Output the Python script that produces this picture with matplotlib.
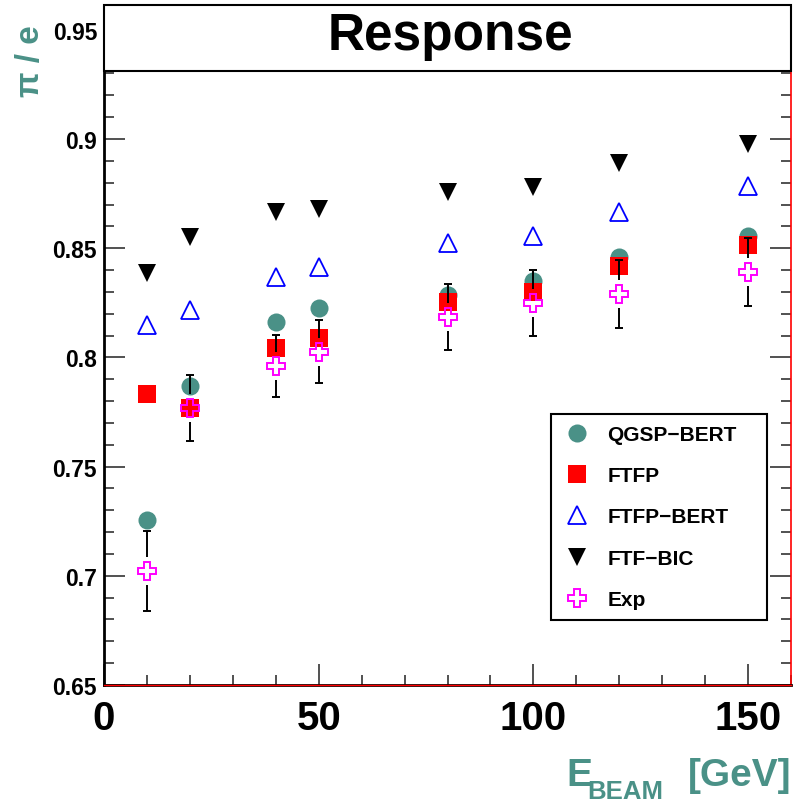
import matplotlib.pyplot as plt
from matplotlib.patches import Rectangle
from matplotlib.lines import Line2D
from matplotlib.ticker import MultipleLocator

plt.rcParams['font.family'] = ['Liberation Sans', 'DejaVu Sans']
plt.rcParams['font.weight'] = 'bold'

# beam energies (GeV)
energy = [10, 20, 40, 50, 80, 100, 120, 150]

# pi/e response per physics list
qgsp_bert = [0.7257, 0.7869, 0.8163, 0.8228, 0.8286, 0.8350, 0.8460, 0.8556]
ftfp = [0.7834, 0.7768, 0.8044, 0.8089, 0.8255, 0.8300, 0.8418, 0.8515]
ftfp_bert = [0.8148, 0.8217, 0.8368, 0.8414, 0.8524, 0.8556, 0.8666, 0.8785]
ftf_bic = [0.8387, 0.8550, 0.8666, 0.8680, 0.8757, 0.8780, 0.8890, 0.8977]
exp_val = [0.7023, 0.7768, 0.7962, 0.8026, 0.8185, 0.8249, 0.8290, 0.8390]
exp_err = [0.0182, 0.0151, 0.0142, 0.0144, 0.0152, 0.0153, 0.0156, 0.0156]

teal = '#4a9187'
W, H = 794, 803

fig = plt.figure(figsize=(W / 100, H / 100), dpi=100)
ax = fig.add_axes([104 / W, (H - 686) / H, (791 - 104) / W, (686 - 6) / H])

ms = 13
ax.plot(energy, qgsp_bert, 'o', color=teal, ms=ms, mew=0, zorder=3)
ax.plot(energy, ftfp, 's', color='red', ms=ms, mew=0, zorder=3)
ax.plot(energy, ftfp_bert, '^', mfc='none', mec='blue', ms=ms, mew=1.3, zorder=3)
ax.plot(energy, ftf_bic, 'v', color='black', ms=ms, mew=0, zorder=3)

# Exp error bars, broken around the open marker
gap = 0.0064
lo = [v - e for v, e in zip(exp_val, exp_err)]
hi = [v + e for v, e in zip(exp_val, exp_err)]
ax.vlines(energy, [v + gap for v in exp_val], hi, color='black', lw=1.4, zorder=4)
ax.vlines(energy, lo, [v - gap for v in exp_val], color='black', lw=1.4, zorder=4)
ax.plot(energy, hi, '_', color='black', ms=6, mew=1.4, zorder=4)
ax.plot(energy, lo, '_', color='black', ms=6, mew=1.4, zorder=4)
ax.plot(energy, exp_val, 'P', mfc='none', mec='#ff00ff', ms=ms, mew=1.4, zorder=5)

ax.set_xlim(0, 160)
ax.set_ylim(0.65, 0.65 + 680 / 2184)
ax.xaxis.set_major_locator(MultipleLocator(50))
ax.xaxis.set_minor_locator(MultipleLocator(10))
ax.yaxis.set_minor_locator(MultipleLocator(0.01))
ax.set_yticks([0.65, 0.7, 0.75, 0.8, 0.85, 0.9, 0.95])
ax.set_yticklabels(['0.65', '0.7', '0.75', '0.8', '0.85', '0.9', '0.95'])

ax.tick_params(which='both', direction='in', top=False, right=True, color='#333333')
ax.tick_params(which='major', length=15, width=1.2)
ax.tick_params(which='minor', length=7.5, width=1.2)
ax.tick_params(axis='x', which='major', labelsize=29, pad=10)
ax.tick_params(axis='y', which='major', labelsize=16.5, pad=5)
for lab in ax.get_xticklabels() + ax.get_yticklabels():
    lab.set_fontweight('bold')

for s in ['left', 'bottom']:
    ax.spines[s].set_linewidth(2)
    ax.spines[s].set_color('black')
ax.spines['right'].set_color('red')
ax.spines['right'].set_linewidth(1.2)
ax.spines['top'].set_linewidth(1.2)
ax.axhline(0.65, color='red', lw=1, zorder=6, clip_on=False)

# legend
handles = [
    Line2D([], [], ls='none', marker='o', color=teal, ms=ms, mew=0),
    Line2D([], [], ls='none', marker='s', color='red', ms=ms, mew=0),
    Line2D([], [], ls='none', marker='^', mfc='none', mec='blue', ms=ms, mew=1.3),
    Line2D([], [], ls='none', marker='v', color='black', ms=ms, mew=0),
    Line2D([], [], ls='none', marker='P', mfc='none', mec='#ff00ff', ms=ms, mew=1.4),
]
labels = ['QGSP\u2212BERT', 'FTFP', 'FTFP\u2212BERT', 'FTF\u2212BIC', 'Exp']
leg = fig.legend(handles, labels, loc='center left', mode='expand',
                 bbox_to_anchor=(551 / W, (H - 620) / H, (767 - 551) / W, (620 - 416) / H),
                 bbox_transform=fig.transFigure, fancybox=False, framealpha=1,
                 edgecolor='black', prop={'size': 15, 'weight': 'bold'},
                 handlelength=1.5, handletextpad=0.7, labelspacing=1.07,
                 borderpad=0.5, borderaxespad=0)
leg.get_frame().set_linewidth(1.5)

# title box
fig.patches.append(Rectangle((104 / W, (H - 72) / H), (791 - 104) / W, 66 / H,
                             transform=fig.transFigure, facecolor='white',
                             edgecolor='black', lw=1.5, zorder=5))
fig.text(450 / W, (H - 50) / H, 'Response', ha='center', va='baseline',
         fontsize=37, fontweight='bold', zorder=6)

# axis titles
fig.text(30 / W, (H - 61) / H, '\u03c0 / e', rotation=90, ha='center', va='center',
         fontsize=24, fontweight='bold', color=teal)
fig.text(566 / W, (H - 786) / H, 'E', ha='left', va='baseline',
         fontsize=28, fontweight='bold', color=teal)
fig.text(587 / W, (H - 799) / H, 'BEAM', ha='left', va='baseline',
         fontsize=18.5, fontweight='bold', color=teal)
fig.text(791 / W, (H - 786) / H, '[GeV]', ha='right', va='baseline',
         fontsize=28, fontweight='bold', color=teal)

fig.savefig('out.png', dpi=100)
